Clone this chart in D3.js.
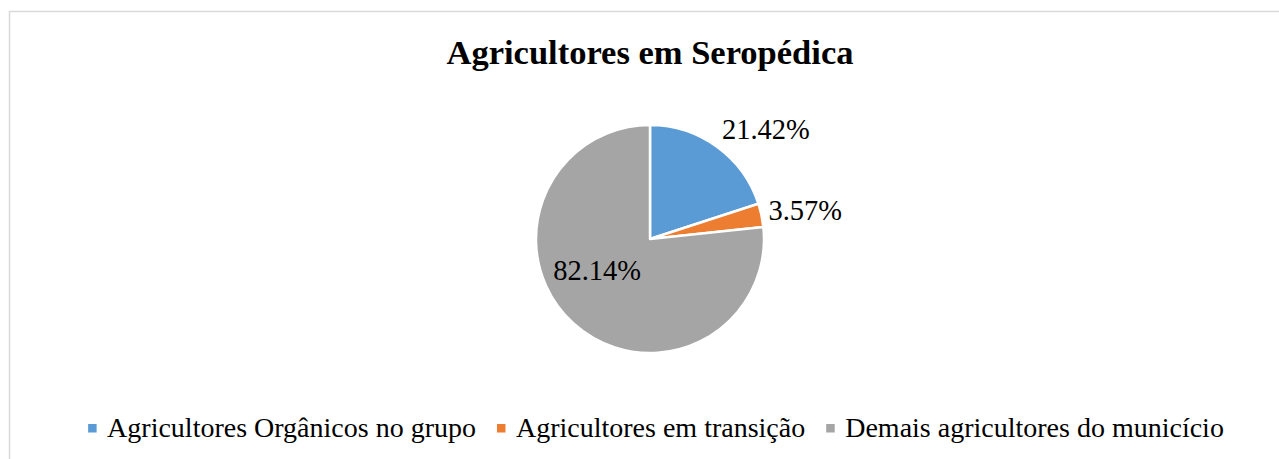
<!DOCTYPE html>
<html>
<head>
<meta charset="utf-8">
<script src="https://cdn.jsdelivr.net/npm/d3@7"></script>
<style>
  body { margin: 0; background: #fff; }
  svg text { font-family: "Liberation Serif", "Times New Roman", serif; fill: #000; }
</style>
</head>
<body>
<svg id="chart" width="1279" height="459"></svg>
<script>
// chart data
const title = "Agricultores em Seropédica";
const categories = ["Agricultores Orgânicos no grupo", "Agricultores em transição", "Demais agricultores do municício"];
const values = [21.42, 3.57, 82.14];
const labels = ["21.42%", "3.57%", "82.14%"];
const colors = ["#5b9bd5", "#ed7d31", "#a5a5a5"];

let cx = 650, cy = 239, radius = 114;

let svg = d3.select("#chart");

// outer frame (right and bottom edges run off the page)
svg.append("rect")
    .attr("x", 9.5).attr("y", 11.5)
    .attr("width", 1300).attr("height", 500)
    .style("fill", "none")
    .style("stroke", "#d9d9d9")
    .style("stroke-width", 1.5);

svg.append("text")
    .attr("x", cx).attr("y", 64)
    .attr("text-anchor", "middle")
    .style("font-size", "34.5px")
    .style("font-weight", "bold")
    .text(title);

let pie = d3.pie().sort(null).value(function(d) {return d;});
let arcs = pie(values);
let arc = d3.arc().innerRadius(0).outerRadius(radius);

let g = svg.append("g").attr("transform", "translate(" + cx + "," + cy + ")");

g.selectAll(".slice").data(arcs)
    .enter().append("path")
    .attr("class", "slice")
    .attr("d", arc)
    .style("fill", function(d, i) {return colors[i];})
    .style("stroke", "#fff")
    .style("stroke-width", 2.5)
    .style("stroke-linejoin", "round");

// data labels: the small slices get outside labels, the big one inside
let labelSize = 28.5;
let capH = labelSize * 0.66;
g.selectAll(".lbl").data(arcs)
    .enter().append("text")
    .attr("class", "lbl")
    .style("font-size", labelSize + "px")
    .each(function(d, i) {
        let a = (d.startAngle + d.endAngle) / 2;
        let t = d3.select(this).text(labels[i]);
        if (d.endAngle - d.startAngle < Math.PI / 2) {
            let r = radius + 5;
            let x = Math.sin(a) * r, y = -Math.cos(a) * r;
            let yc = y - Math.cos(a) * capH * 0.85;
            t.attr("x", x + 2).attr("y", yc + capH / 2)
             .attr("text-anchor", "start");
        } else {
            let r = radius * 0.55;
            t.attr("x", Math.sin(a) * r - 11).attr("y", -Math.cos(a) * r - 15 + capH / 2)
             .attr("text-anchor", "middle");
        }
    });

// legend, centred under the pie
let legend = svg.append("g");
let items = legend.selectAll(".item").data(categories)
    .enter().append("g").attr("class", "item");
items.append("rect")
    .attr("width", 8.5).attr("height", 8.5)
    .attr("y", -13)
    .style("fill", function(d, i) {return colors[i];});
items.append("text")
    .attr("x", 19)
    .attr("y", 0)
    .style("font-size", "28px")
    .text(function(d) {return d;});

let xpos = 0;
items.each(function() {
    let w = d3.select(this).select("text").node().getComputedTextLength();
    d3.select(this).attr("transform", "translate(" + xpos + ",0)");
    xpos += 19 + w + 21;
});
let total = xpos - 21;
legend.attr("transform", "translate(" + (656 - total / 2) + ",437)");
</script>
</body>
</html>
